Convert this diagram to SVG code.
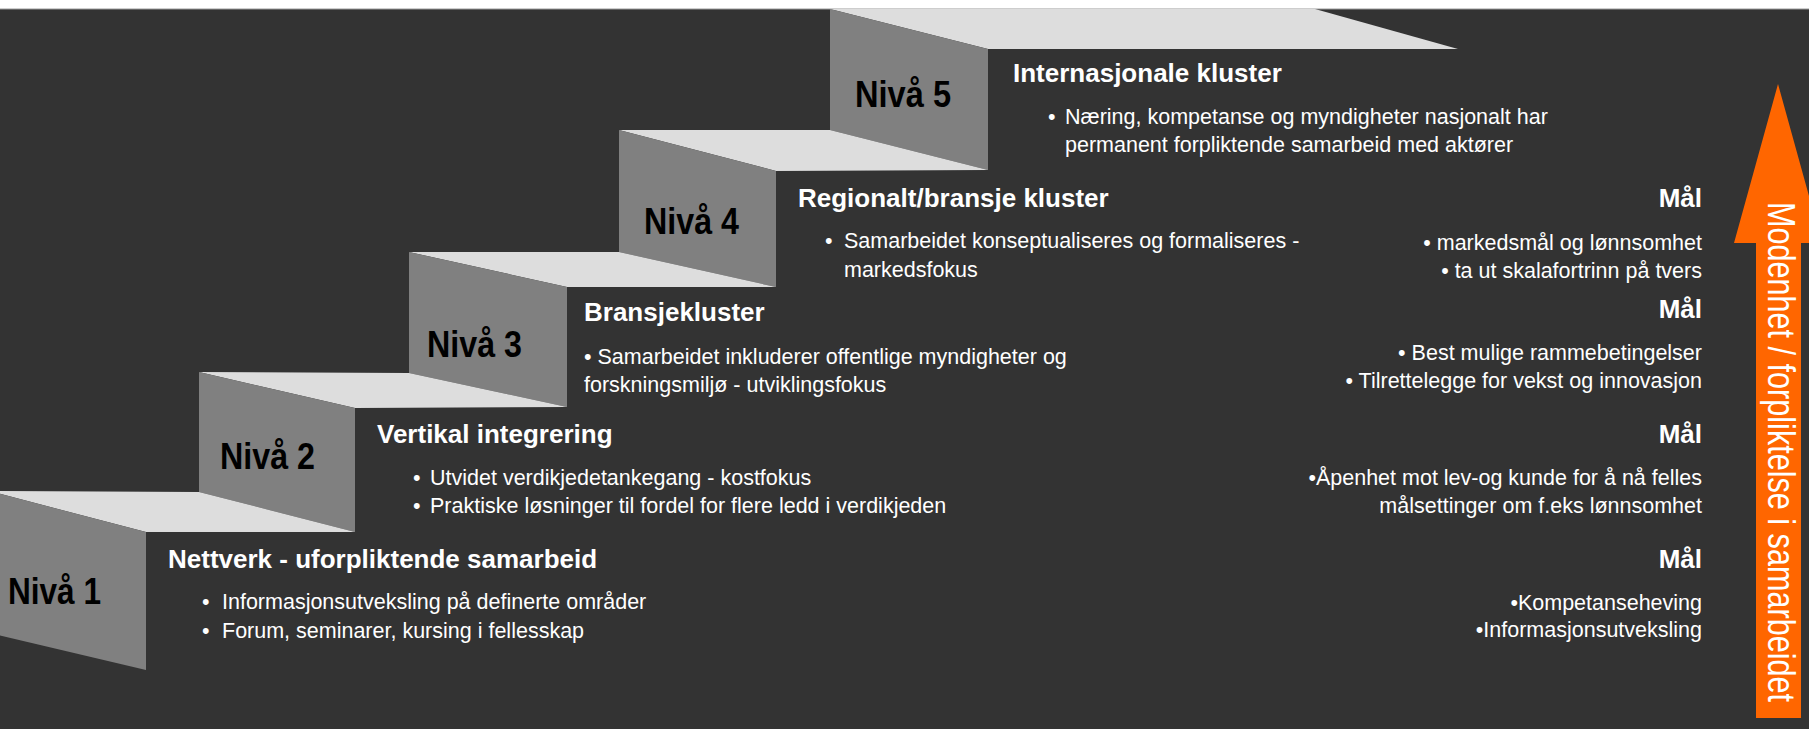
<svg xmlns="http://www.w3.org/2000/svg" width="1809" height="729" viewBox="0 0 1809 729">
  <style>
    .top { fill: #dddddd; }
    .front { fill: #808080; }
    .lvl { font-family: "Liberation Sans", Arial, sans-serif; font-weight: bold; font-size: 37px; fill: #000000; }
    .head { font-family: "Liberation Sans", Arial, sans-serif; font-weight: bold; font-size: 26px; fill: #ffffff; }
    .body { font-family: "Liberation Sans", Arial, sans-serif; font-size: 21.5px; fill: #ffffff; }
    .goal { font-family: "Liberation Sans", Arial, sans-serif; font-size: 21.5px; fill: #ffffff; text-anchor: end; }
    .goalhead { font-family: "Liberation Sans", Arial, sans-serif; font-weight: bold; font-size: 26px; fill: #ffffff; text-anchor: end; }
    .vert { font-family: "Liberation Sans", Arial, sans-serif; font-size: 39px; fill: #ffffff; }
  </style>
  <rect x="0" y="0" width="1809" height="729" fill="#333333"/>
  <rect x="0" y="0" width="1809" height="9" fill="#ffffff"/>
  <line x1="0" y1="9" x2="1809" y2="9" stroke="#9a9a9a" stroke-width="1"/>

  <g id="step-5">
    <polygon class="top" points="830,9 1315,9 1458,49 988,49"/>
    <polygon class="front" points="830,9 988,49 988,170 830,130"/>
    <text class="lvl" x="855" y="107" textLength="96" lengthAdjust="spacingAndGlyphs">Nivå 5</text>
    <text class="head" x="1013" y="82">Internasjonale kluster</text>
    <text class="body" x="1048" y="124">•</text>
    <text class="body" x="1065" y="124">Næring, kompetanse og myndigheter nasjonalt har</text>
    <text class="body" x="1065" y="152">permanent forpliktende samarbeid med aktører</text>
  </g>

  <g id="step-4">
    <polygon class="top" points="619,130 830,130 988,170 776,171"/>
    <polygon class="front" points="619,130 776,171 776,287 619,252"/>
    <text class="lvl" x="644" y="234" textLength="95" lengthAdjust="spacingAndGlyphs">Nivå 4</text>
    <text class="head" x="798" y="207">Regionalt/bransje kluster</text>
    <text class="body" x="825" y="248">•</text>
    <text class="body" x="844" y="248">Samarbeidet konseptualiseres og formaliseres -</text>
    <text class="body" x="844" y="277">markedsfokus</text>
  </g>

  <g id="step-3">
    <polygon class="top" points="409,252 619,252 776,287 567,287"/>
    <polygon class="front" points="409,252 567,287 567,407 409,373"/>
    <text class="lvl" x="427" y="357" textLength="95" lengthAdjust="spacingAndGlyphs">Nivå 3</text>
    <text class="head" x="584" y="321">Bransjekluster</text>
    <text class="body" x="584" y="364">• Samarbeidet inkluderer offentlige myndigheter og</text>
    <text class="body" x="584" y="392">forskningsmiljø - utviklingsfokus</text>
  </g>

  <g id="step-2">
    <polygon class="top" points="199,372 409,373 567,407 355,408"/>
    <polygon class="front" points="199,372 355,408 355,532 199,492"/>
    <text class="lvl" x="220" y="469" textLength="95" lengthAdjust="spacingAndGlyphs">Nivå 2</text>
    <text class="head" x="377" y="443">Vertikal integrering</text>
    <text class="body" x="413" y="485">•</text>
    <text class="body" x="430" y="485">Utvidet verdikjedetankegang - kostfokus</text>
    <text class="body" x="413" y="513">•</text>
    <text class="body" x="430" y="513">Praktiske løsninger til fordel for flere ledd i verdikjeden</text>
  </g>

  <g id="step-1">
    <polygon class="top" points="-11,491 199,492 355,532 146,532"/>
    <polygon class="front" points="-11,491 146,532 146,670 -11,633"/>
    <text class="lvl" x="8" y="604" textLength="93" lengthAdjust="spacingAndGlyphs">Nivå 1</text>
    <text class="head" x="168" y="568">Nettverk - uforpliktende samarbeid</text>
    <text class="body" x="202" y="609">•</text>
    <text class="body" x="222" y="609">Informasjonsutveksling på definerte områder</text>
    <text class="body" x="202" y="638">•</text>
    <text class="body" x="222" y="638">Forum, seminarer, kursing i fellesskap</text>
  </g>

  <g id="goal-4">
    <text class="goalhead" x="1702" y="207">Mål</text>
    <text class="goal" x="1702" y="250">• markedsmål og lønnsomhet</text>
    <text class="goal" x="1702" y="278">• ta ut skalafortrinn på tvers</text>
  </g>
  <g id="goal-3">
    <text class="goalhead" x="1702" y="318">Mål</text>
    <text class="goal" x="1702" y="360">• Best mulige rammebetingelser</text>
    <text class="goal" x="1702" y="388">• Tilrettelegge for vekst og innovasjon</text>
  </g>
  <g id="goal-2">
    <text class="goalhead" x="1702" y="443">Mål</text>
    <text class="goal" x="1702" y="485">•Åpenhet mot lev-og kunde for å nå felles</text>
    <text class="goal" x="1702" y="513">målsettinger om f.eks lønnsomhet</text>
  </g>
  <g id="goal-1">
    <text class="goalhead" x="1702" y="568">Mål</text>
    <text class="goal" x="1702" y="610">•Kompetanseheving</text>
    <text class="goal" x="1702" y="637">•Informasjonsutveksling</text>
  </g>

  <g id="maturity-arrow">
    <polygon points="1778,84 1822,243 1801,243 1801,718 1756,718 1756,243 1734,243" fill="#ff6600"/>
    <text class="vert" transform="translate(1768,202) rotate(90)" x="0" y="0" textLength="500" lengthAdjust="spacingAndGlyphs">Modenhet / forpliktelse i samarbeidet</text>
  </g>

  <g id="connectors"/>
</svg>
